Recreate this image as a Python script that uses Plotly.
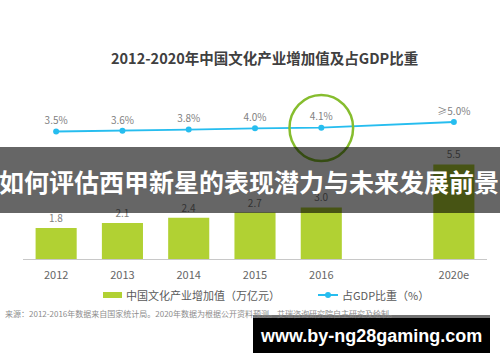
import plotly.graph_objects as go

# ---- data ----
categories = ["2012", "2013", "2014", "2015", "2016", "2020e"]
slot = [0, 1, 2, 3, 4, 6]          # axis slots (2017-2019 not shown)
value_trillion = [1.8, 2.1, 2.4, 2.7, 3.0, 5.5]
value_labels = ["1.8", "2.1", "2.4", "2.7", "3.0", "5.5"]
gdp_share = [3.5, 3.6, 3.8, 4.0, 4.1, 5.0]
share_labels = ["3.5%", "3.6%", "3.8%", "4.0%", "4.1%", "≥5.0%"]

title_text = "2012-2020年中国文化产业增加值及占GDP比重"
bar_name = "中国文化产业增加值（万亿元）"
line_name = "占GDP比重（%）"
source_text = "来源：2012-2016年数据来自国家统计局。2020年数据为根据公开资料预测。艾瑞咨询研究院自主研究及绘制。"
banner_text = "如何评估西甲新星的表现潜力与未来发展前景"
url_text = "www.by-ng28gaming.com"

CJK = "Noto Sans CJK SC"
GREEN = "#b1d133"
BLUE = "#26bdef"

# plot area in pixels: x 23..487, y 100..259
L, R, T, B = 23, 13, 100, 103
PW, PH = 500 - L - R, 362 - T - B


def px(x):
    return (x - L) / PW


def py(y):
    return (362 - B - y) / PH


fig = go.Figure()
fig.add_trace(go.Bar(
    x=slot, y=value_trillion, width=0.62, marker_color=GREEN,
    marker_line_width=0, name=bar_name,
    text=value_labels, textposition="outside", cliponaxis=False,
    textfont=dict(family=CJK, size=10, color="#7f7f7f"),
))
fig.add_trace(go.Scatter(
    x=slot, y=gdp_share, yaxis="y2", mode="lines+markers+text",
    line=dict(color=BLUE, width=1.8), marker=dict(color=BLUE, size=6),
    name=line_name, text=share_labels, textposition="top center",
    cliponaxis=False,
    textfont=dict(family=CJK, size=10, color="#7f7f7f"),
))

shapes = [
    # green highlight circle around 2016
    dict(type="circle", xref="x", yref="paper", x0=3.52, x1=4.48,
         y0=py(161), y1=py(95), line=dict(color="#86bd2e", width=2.5),
         layer="above"),
    # dark banner overlay
    dict(type="rect", xref="paper", yref="paper", x0=px(0), x1=px(500),
         y0=py(213), y1=py(147), fillcolor="rgba(0,0,0,0.6)",
         line_width=0, layer="above"),
    # legend: bar swatch
    dict(type="rect", xref="paper", yref="paper", x0=px(103), x1=px(122),
         y0=py(298), y1=py(292), fillcolor=GREEN, line_width=0),
    # legend: line swatch
    dict(type="line", xref="paper", yref="paper", x0=px(318), x1=px(338),
         y0=py(295), y1=py(295), line=dict(color=BLUE, width=2)),
    dict(type="circle", xref="paper", yref="paper", x0=px(325), x1=px(331),
         y0=py(298), y1=py(292), fillcolor=BLUE, line_width=0),
    # url box
    dict(type="rect", xref="paper", yref="paper", x0=px(253), x1=px(490),
         y0=py(318), y1=py(315), fillcolor="rgba(0,0,0,0.55)",
         line_width=0, layer="above"),
    dict(type="rect", xref="paper", yref="paper", x0=px(253), x1=px(490),
         y0=py(353), y1=py(318), fillcolor="#000000",
         line_width=0, layer="above"),
]


def note(text, x, y, size, color, family=CJK, xanchor="center"):
    return dict(text=text, xref="paper", yref="paper", x=px(x), y=py(y),
                xanchor=xanchor, yanchor="middle", showarrow=False,
                font=dict(family=family, size=size, color=color))


annotations = [
    note("<b>" + title_text + "</b>", 264, 57, 14.5, "#404040"),
    note(bar_name, 124, 295, 11, "#595959", xanchor="left"),
    note(line_name, 340, 295, 11, "#595959", xanchor="left"),
    note(source_text, 3, 313, 8, "#8c8c8c", xanchor="left"),
    note("<b>" + banner_text + "</b>", 249, 181, 25, "#ffffff"),
    note("<b>" + url_text + "</b>", 371, 336, 18, "#ffffff",
         family="Liberation Sans"),
]

fig.update_layout(
    width=500, height=362,
    margin=dict(l=L, r=R, t=T, b=B),
    paper_bgcolor="white", plot_bgcolor="white",
    showlegend=False,
    xaxis=dict(range=[-0.5, 6.5], tickvals=slot, ticktext=categories,
               showline=True, linecolor="#c8c8c8", linewidth=1,
               showgrid=False, zeroline=False, ticks="",
               ticklabelstandoff=6,
               tickfont=dict(family=CJK, size=11, color="#666666")),
    yaxis=dict(range=[0, PH / 17.2], visible=False, showgrid=False),
    yaxis2=dict(range=[3.5 - 127.5 / 6.33, 3.5 - 127.5 / 6.33 + PH / 6.33],
                overlaying="y", visible=False, showgrid=False),
    shapes=shapes, annotations=annotations,
)

fig.write_html(
    "out.html",
    config={"displayModeBar": False},
    post_script="document.body.style.margin='0';document.body.style.overflow='hidden';",
)
